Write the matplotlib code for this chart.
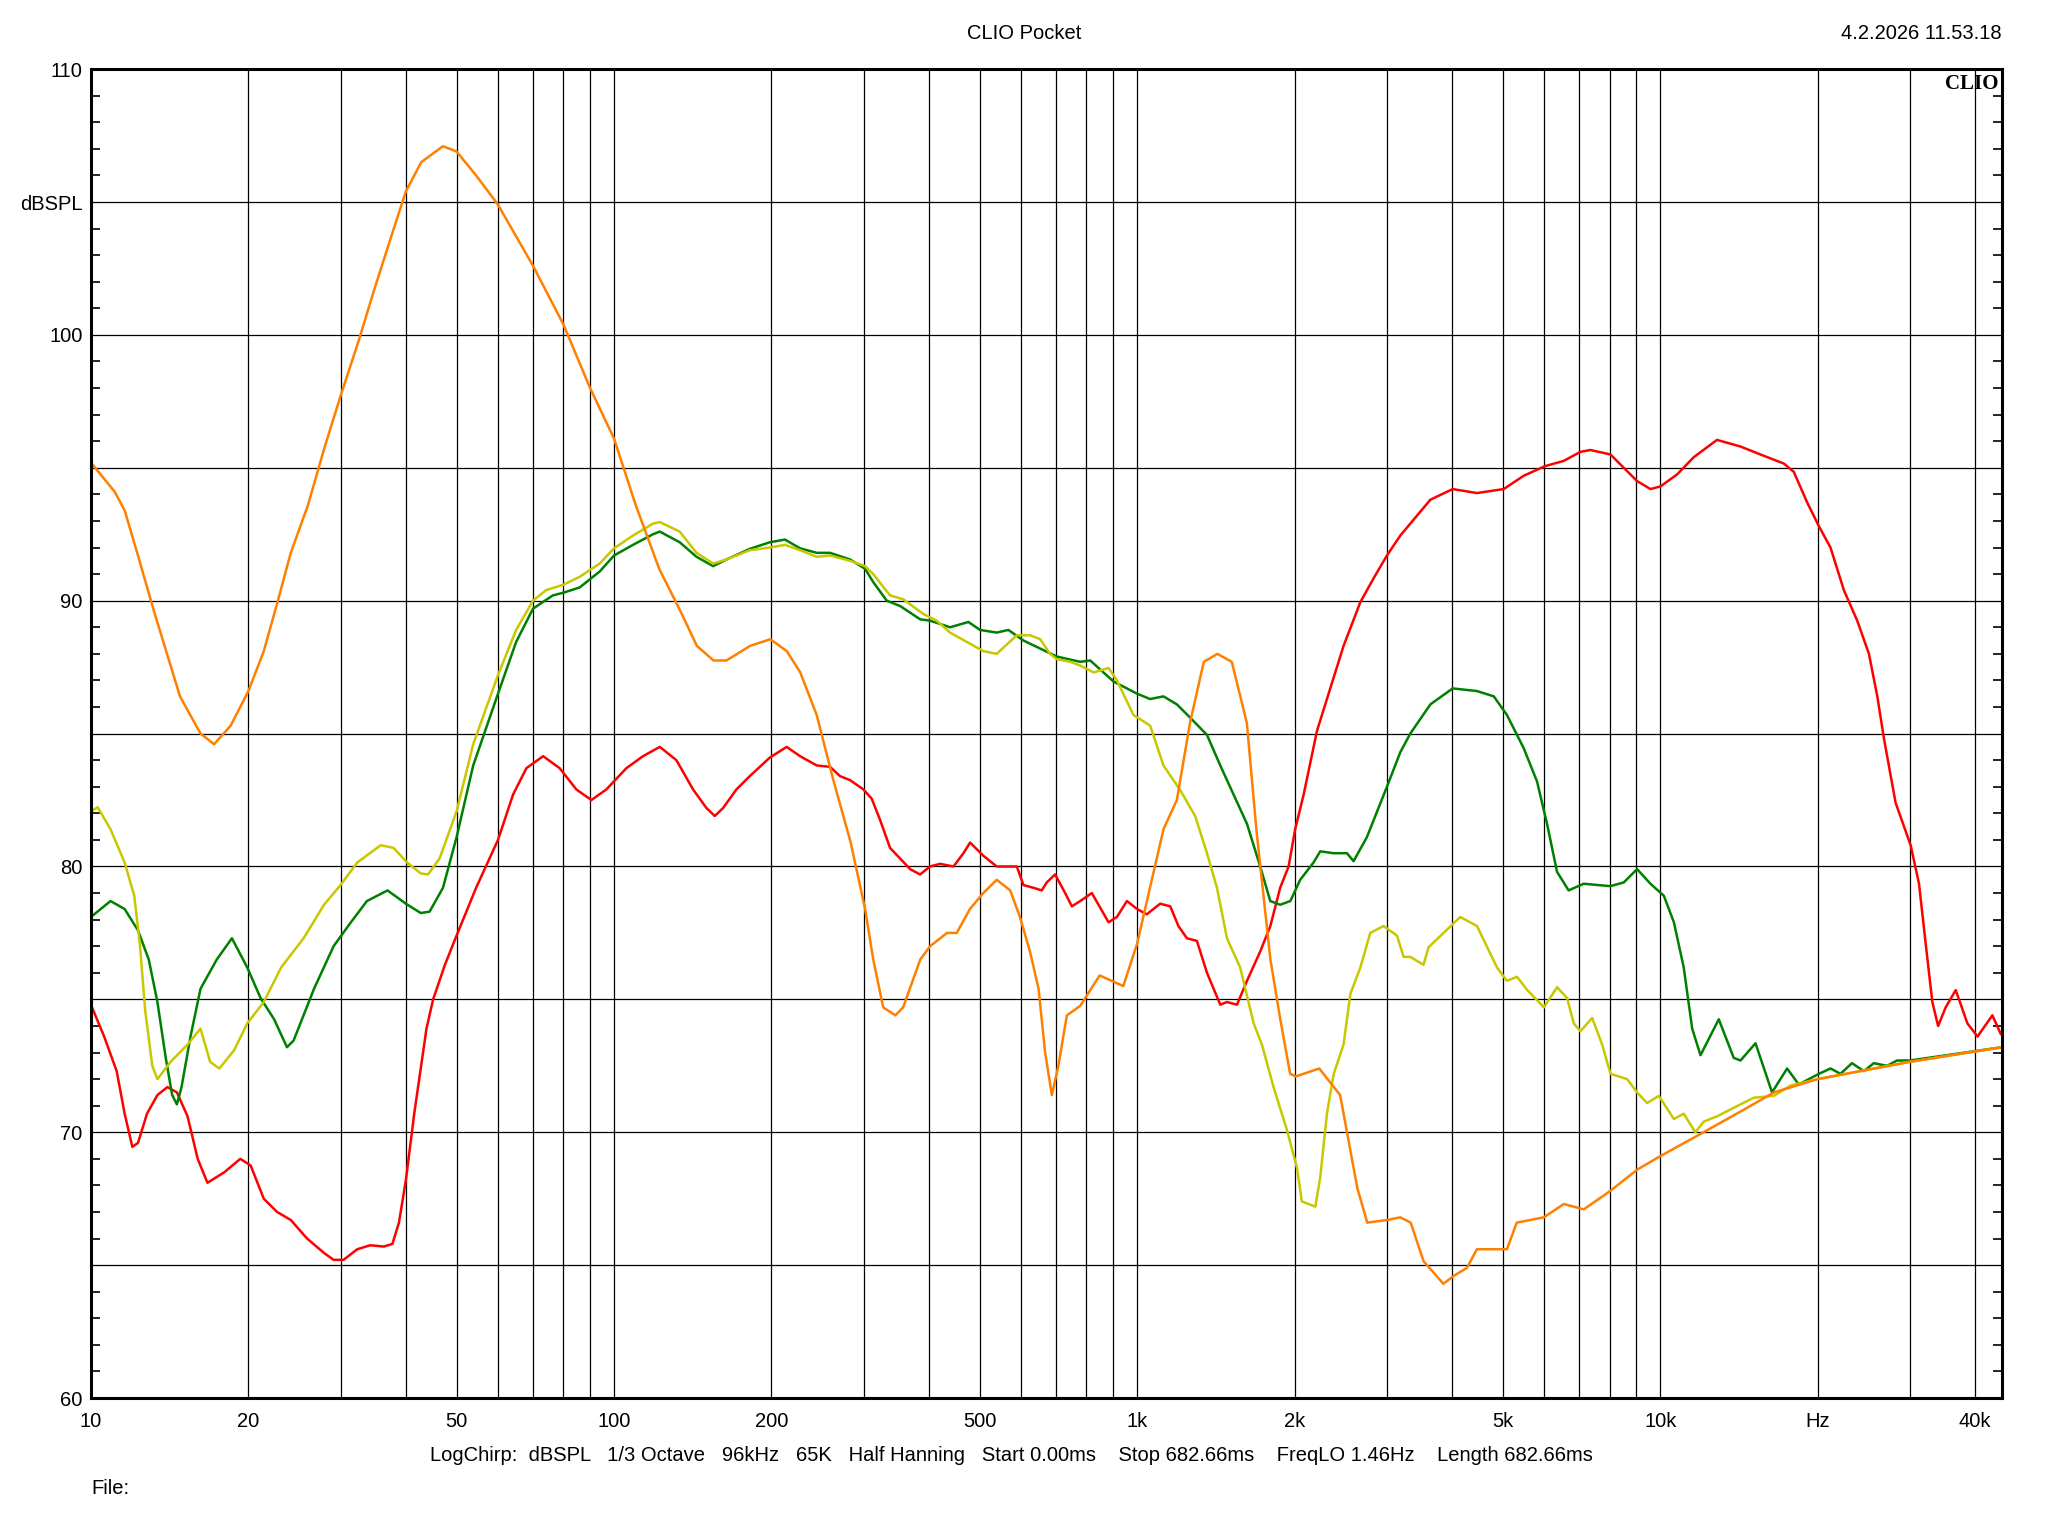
import matplotlib
matplotlib.use("Agg")
import matplotlib.pyplot as plt
from matplotlib.ticker import FixedLocator, NullFormatter

plt.rcParams['font.family'] = ['Liberation Sans', 'DejaVu Sans']

# red trace
red_f = [10, 10.6, 11.2, 11.6, 12.0, 12.3, 12.8, 13.4, 14.0, 14.6,
         15.3, 16.0, 16.7, 18.0, 19.3, 20.2, 21.4, 22.7, 24.1, 25.9,
         27.9, 29.1, 30.4, 32.3, 34.2, 36.3, 37.7, 38.8, 40.0, 41.5,
         42.7, 43.8, 45.1, 47.5, 50, 54.5, 60, 64.1, 68.0, 73.2,
         78.7, 84.7, 90.5, 96.7, 105.6, 113.6, 122.3, 131.6, 141.6, 150.2,
         155.8, 161.6, 171.4, 181.8, 198.6, 213.8, 226.8, 244.2, 258.8, 270.4,
         282.6, 299.7, 310.9, 322.6, 337.0, 352.3, 368.2, 384.7, 401.8, 420.1,
         445.5, 465.6, 479.4, 508.4, 539.1, 588.8, 606.4, 633.4, 657.2, 671.8,
         696.9, 728.5, 750.3, 778.4, 819.2, 881.8, 914.9, 955.9, 1000, 1043,
         1107, 1157, 1200, 1245, 1301, 1360, 1442, 1485, 1552, 1622,
         1719, 1797, 1877, 1948, 2005, 2081, 2207, 2340, 2481, 2672,
         2833, 3003, 3185, 3328, 3636, 4012, 4464, 5021, 5483, 6016,
         6539, 7038, 7353, 8034, 8516, 9032, 9579, 10010, 10770, 11590,
         12840, 14240, 15550, 17230, 18000, 19090, 20110, 21160, 22440, 23800,
         25060, 26000, 26780, 28180, 30110, 31240, 32170, 33130, 33980, 35130,
         36720, 38650, 40410, 43150, 44770]
red_db = [74.8, 73.6, 72.3, 70.7, 69.45, 69.6, 70.7, 71.4, 71.7, 71.5,
          70.6, 69.0, 68.1, 68.5, 69.0, 68.75, 67.5, 67.0, 66.7, 66.0,
          65.46, 65.2, 65.2, 65.6, 65.75, 65.7, 65.8, 66.6, 68.2, 70.7,
          72.4, 73.9, 75.0, 76.3, 77.4, 79.2, 81.0, 82.7, 83.7, 84.15,
          83.7, 82.9, 82.5, 82.9, 83.7, 84.15, 84.5, 84.0, 82.9, 82.2,
          81.9, 82.2, 82.9, 83.4, 84.1, 84.5, 84.15, 83.8, 83.75, 83.4,
          83.25, 82.9, 82.55, 81.75, 80.7, 80.3, 79.9, 79.7, 80.0, 80.1,
          80.0, 80.5, 80.9, 80.4, 80.0, 80.0, 79.3, 79.2, 79.1, 79.4,
          79.7, 79.0, 78.5, 78.7, 79.0, 77.9, 78.1, 78.7, 78.4, 78.2,
          78.6, 78.5, 77.75, 77.3, 77.2, 76.0, 74.8, 74.9, 74.8, 75.7,
          76.8, 77.75, 79.2, 80.0, 81.4, 82.7, 85.1, 86.7, 88.3, 89.95,
          90.85, 91.7, 92.45, 92.9, 93.8, 94.2, 94.05, 94.2, 94.7, 95.06,
          95.26, 95.6, 95.67, 95.5, 95.0, 94.5, 94.2, 94.3, 94.75, 95.4,
          96.05, 95.8, 95.5, 95.16, 94.85, 93.7, 92.8, 92.0, 90.4, 89.25,
          88.0, 86.4, 84.8, 82.4, 80.8, 79.35, 77.1, 74.9, 74.0, 74.7,
          75.35, 74.1, 73.6, 74.4, 73.7]

# green trace
green_f = [10, 10.9, 11.6, 12.3, 12.9, 13.4, 13.9, 14.3, 14.6, 14.9,
           15.5, 16.2, 17.4, 18.6, 19.9, 21.1, 22.4, 23.7, 24.4, 26.7,
           29.1, 31.4, 33.7, 36.9, 40, 42.7, 44.4, 47.1, 50, 53.8,
           60, 65.0, 70, 76.4, 80, 86.0, 93.9, 100, 108.7, 118.7,
           122.3, 133.5, 143.8, 154.7, 164.0, 181.8, 198.6, 212.2, 226.8, 244.2,
           258.8, 282.6, 302, 313, 332.2, 352.3, 384.7, 401.8, 439.0, 475.9,
           500.7, 539.1, 567.4, 606.4, 652.7, 702.1, 778.4, 813.6, 901.3, 1000,
           1059, 1123, 1191, 1263, 1360, 1442, 1529, 1622, 1719, 1797,
           1877, 1963, 2050, 2174, 2239, 2374, 2518, 2593, 2749, 3003,
           3185, 3328, 3636, 4012, 4464, 4807, 5093, 5483, 5814, 6077,
           6349, 6682, 7139, 8034, 8516, 9032, 9579, 10160, 10620, 11090,
           11510, 11940, 12940, 13820, 14240, 15210, 16360, 17480, 18400, 20110,
           21160, 22110, 23260, 24510, 25600, 27140, 28350, 30000, 45000]
green_db = [78.1, 78.7, 78.4, 77.6, 76.5, 74.9, 72.8, 71.4, 71.05, 71.7,
            73.6, 75.4, 76.5, 77.3, 76.2, 75.05, 74.25, 73.2, 73.45, 75.4,
            77.0, 77.9, 78.7, 79.1, 78.6, 78.25, 78.3, 79.2, 81.1, 83.8,
            86.5, 88.45, 89.7, 90.2, 90.3, 90.5, 91.1, 91.7, 92.1, 92.5,
            92.6, 92.2, 91.65, 91.3, 91.55, 91.95, 92.2, 92.3, 91.97, 91.8,
            91.8, 91.55, 91.2, 90.7, 90.0, 89.8, 89.3, 89.25, 89.0, 89.2,
            88.9, 88.8, 88.9, 88.5, 88.2, 87.9, 87.7, 87.75, 86.96, 86.5,
            86.3, 86.4, 86.1, 85.6, 84.95, 83.8, 82.7, 81.6, 80.0, 78.7,
            78.56, 78.7, 79.5, 80.15, 80.57, 80.5, 80.5, 80.2, 81.1, 83.0,
            84.3, 85.0, 86.1, 86.7, 86.6, 86.4, 85.7, 84.45, 83.2, 81.6,
            79.8, 79.1, 79.35, 79.26, 79.4, 79.9, 79.35, 78.9, 77.9, 76.2,
            73.9, 72.9, 74.25, 72.8, 72.7, 73.35, 71.5, 72.4, 71.8, 72.2,
            72.4, 72.2, 72.6, 72.3, 72.6, 72.5, 72.7, 72.7, 73.2]

# yellow trace
yellow_f = [10, 10.3, 10.9, 11.6, 12.1, 12.4, 12.7, 13.1, 13.4, 14.2,
            15.3, 16.2, 16.9, 17.6, 18.8, 19.9, 21.4, 23.1, 25.5, 27.9,
            30.0, 32.3, 35.8, 37.9, 40.2, 42.7, 44.1, 46.4, 50, 53.8,
            60, 65, 70, 74.2, 80, 86, 93.9, 100, 108.7, 118.7,
            122.3, 133.5, 143.8, 154.7, 164, 181.8, 198.6, 212.2, 226.8, 244.2,
            258.8, 282.6, 302, 313, 337, 357.4, 390.2, 413.9, 439, 472.3,
            508.4, 539.1, 563.2, 588.8, 624.4, 652.7, 681.8, 702.1, 744.8, 778.4,
            825.8, 881.8, 914.9, 984, 1059, 1123, 1209, 1291, 1360, 1421,
            1485, 1574, 1670, 1732, 1823, 1933, 2021, 2065, 2191, 2239,
            2306, 2376, 2481, 2556, 2672, 2790, 2959, 3138, 3232, 3328,
            3528, 3606, 3853, 4147, 4464, 4875, 5093, 5324, 5565, 5991,
            6352, 6637, 6834, 7038, 7412, 7744, 8034, 8645, 9032, 9441,
            9936, 10620, 11090, 11670, 12110, 12840, 14240, 15100, 16490, 17750,
            20000, 30000, 45000]
yellow_db = [82.07, 82.23, 81.4, 80.15, 78.9, 77.1, 74.57, 72.5, 72.0, 72.65,
             73.3, 73.9, 72.65, 72.4, 73.1, 74.1, 74.9, 76.2, 77.3, 78.56,
             79.3, 80.15, 80.8, 80.7, 80.15, 79.74, 79.7, 80.3, 82.07, 84.6,
             87.2, 88.9, 90.0, 90.4, 90.6, 90.9, 91.4, 91.97, 92.45, 92.9,
             92.96, 92.6, 91.8, 91.4, 91.55, 91.9, 92.0, 92.1, 91.9, 91.65,
             91.7, 91.5, 91.3, 91.0, 90.2, 90.05, 89.5, 89.25, 88.8, 88.45,
             88.1, 88.0, 88.35, 88.7, 88.7, 88.55, 88.0, 87.8, 87.7, 87.56,
             87.3, 87.47, 87.0, 85.7, 85.3, 83.8, 82.87, 81.9, 80.5, 79.2,
             77.3, 76.2, 74.1, 73.3, 71.7, 70.1, 68.66, 67.4, 67.2, 68.3,
             70.7, 72.2, 73.3, 75.2, 76.2, 77.5, 77.76, 77.4, 76.6, 76.6,
             76.3, 76.96, 77.5, 78.1, 77.76, 76.2, 75.7, 75.85, 75.36, 74.7,
             75.46, 75.05, 74.1, 73.8, 74.3, 73.3, 72.2, 72.0, 71.5, 71.1,
             71.37, 70.5, 70.7, 70.0, 70.4, 70.6, 71.05, 71.3, 71.37, 71.76,
             72.0, 72.65, 73.2]

# orange trace
orange_f = [10, 11.1, 11.6, 12.3, 13.2, 14.8, 16.2, 17.2, 18.5, 20,
            21.4, 22.7, 24.1, 26.0, 27.9, 30, 32.4, 34.8, 37.5, 40,
            42.8, 47.1, 50, 54.5, 60, 70, 80, 90, 100, 110,
            122, 134, 144, 155, 164, 182, 199, 214, 227, 244,
            263, 283, 302, 313, 327, 345, 357, 385, 402, 433,
            452, 479, 508, 539, 572, 597, 624, 648, 667, 687,
            707, 734, 778, 848, 941, 1000, 1123, 1191, 1262, 1341,
            1424, 1517, 1621, 1692, 1798, 1876, 1961, 2010, 2229, 2444,
            2636, 2754, 3006, 3184, 3334, 3528, 3850, 4032, 4271, 4462,
            4792, 5093, 5317, 5991, 6539, 7143, 8034, 9045, 10000, 11600,
            14300, 16500, 20000, 30000, 45000]
orange_db = [95.2, 94.1, 93.4, 91.7, 89.6, 86.4, 85.0, 84.6, 85.3, 86.6,
             88.1, 89.9, 91.8, 93.6, 95.7, 97.7, 99.7, 101.7, 103.7, 105.4,
             106.5, 107.1, 106.9, 106.0, 104.9, 102.6, 100.4, 98.0, 96.1, 93.6,
             91.2, 89.6, 88.3, 87.75, 87.75, 88.3, 88.55, 88.1, 87.3, 85.7,
             83.2, 80.95, 78.4, 76.5, 74.7, 74.4, 74.7, 76.5, 77.0, 77.5,
             77.5, 78.4, 79.0, 79.5, 79.1, 78.1, 76.8, 75.4, 73.0, 71.4,
             72.5, 74.4, 74.75, 75.9, 75.5, 77.1, 81.4, 82.5, 85.4, 87.7,
             88.0, 87.7, 85.4, 81.3, 76.5, 74.3, 72.2, 72.1, 72.4, 71.4,
             67.9, 66.6, 66.7, 66.8, 66.6, 65.15, 64.3, 64.6, 64.9, 65.6,
             65.6, 65.6, 66.6, 66.8, 67.3, 67.1, 67.8, 68.6, 69.1, 69.8,
             70.8, 71.5, 72.0, 72.65, 73.2]

x_ticks = [10, 20, 50, 100, 200, 500, 1000, 2000, 5000, 10000, 20000, 40000]
x_labels = ['10', '20', '50', '100', '200', '500', '1k', '2k', '5k', '10k', 'Hz', '40k']
y_ticks = [60, 65, 70, 75, 80, 85, 90, 95, 100, 105, 110]
y_labels = ['60', '', '70', '', '80', '', '90', '', '100', 'dBSPL', '110']

fig = plt.figure(figsize=(20.48, 15.36), dpi=100)
ax = fig.add_axes([0.0444, 0.0898, 0.9331, 0.8652])

ax.semilogx(red_f, red_db, color='#ff0000', lw=1.8)
ax.semilogx(green_f, green_db, color='#008000', lw=1.8)
ax.semilogx(yellow_f, yellow_db, color='#c8c800', lw=1.8)
ax.semilogx(orange_f, orange_db, color='#ff8000', lw=1.8)

ax.set_xlim(10, 45000)
ax.set_ylim(60, 110)

# grid: every 1..9 x decade, every 5 dB
minor_x = [m * 10 ** e for e in range(1, 5) for m in range(1, 10) if m * 10 ** e < 45000]
ax.xaxis.set_major_locator(FixedLocator(x_ticks))
ax.set_xticklabels(x_labels)
ax.xaxis.set_minor_locator(FixedLocator(minor_x))
ax.xaxis.set_minor_formatter(NullFormatter())
ax.set_yticks(y_ticks)
ax.set_yticklabels(y_labels)
ax.yaxis.set_minor_locator(FixedLocator(list(range(60, 111))))

ax.grid(which='both', axis='x', color='black', lw=0.9)
ax.grid(which='major', axis='y', color='black', lw=0.9)

ax.tick_params(axis='x', which='both', length=0, pad=10, labelsize=14.5)
ax.tick_params(axis='y', which='major', length=0, pad=6, labelsize=14.5)
ax.tick_params(axis='y', which='minor', direction='in', length=6.5, width=1.2,
               left=True, right=True)
for s in ax.spines.values():
    s.set_linewidth(2.2)

fig.text(0.5, 0.978, 'CLIO Pocket', ha='center', va='center', fontsize=14.5)
fig.text(0.9775, 0.978, '4.2.2026 11.53.18', ha='right', va='center', fontsize=14.5)
ax.text(0.998, 0.996, 'CLIO', transform=ax.transAxes, ha='right', va='top',
        fontsize=15, fontweight='bold', family='Liberation Serif')
fig.text(0.4937, 0.0527,
         'LogChirp:  dBSPL   1/3 Octave   96kHz   65K   Half Hanning   Start 0.00ms    '
         'Stop 682.66ms    FreqLO 1.46Hz    Length 682.66ms',
         ha='center', va='center', fontsize=14.5)
fig.text(0.0444, 0.0306, 'File:', ha='left', va='center', fontsize=14.5)

fig.savefig('out.png', dpi=100, facecolor='white')
